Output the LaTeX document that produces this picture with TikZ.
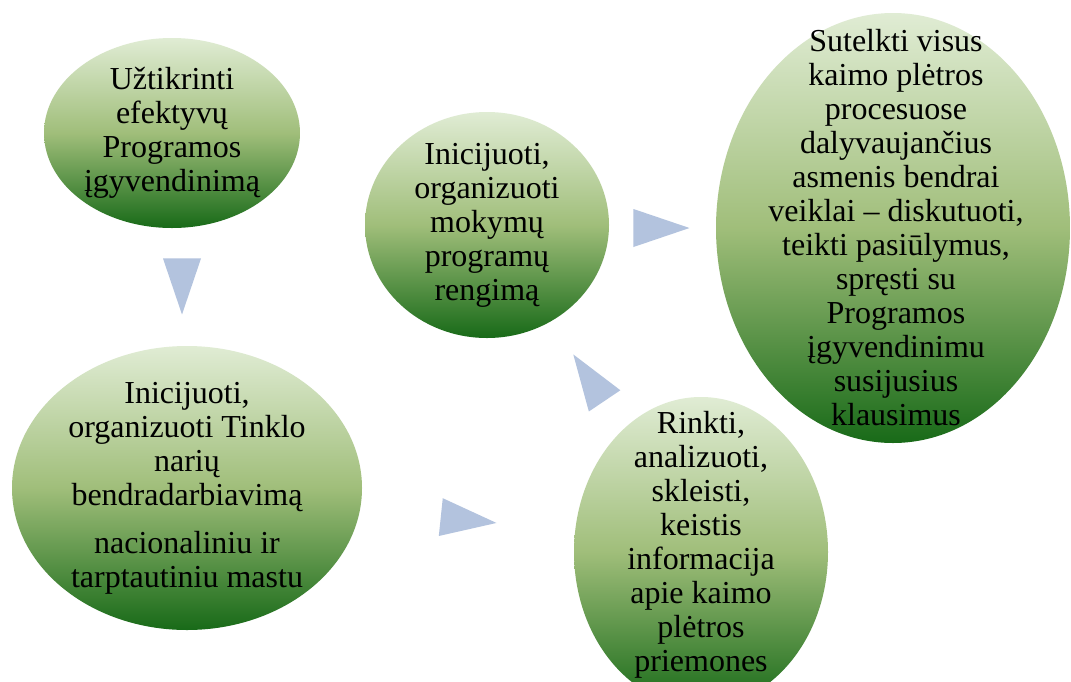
\documentclass[tikz,border=0pt]{standalone}
\usepackage{fontspec}
\setmainfont{Liberation Serif}
\usetikzlibrary{calc,shapes,positioning}
\definecolor{bubtop}{RGB}{224,236,212}
\definecolor{bubmid}{RGB}{160,190,122}
\definecolor{bubbot}{RGB}{24,106,24}
\definecolor{pointfill}{RGB}{179,195,222}
\tikzset{
bubble/.style={
  ellipse,
  inner sep=0pt,
  top color=bubtop,
  bottom color=bubbot,
  middle color=bubmid},
bubtext/.style={
  align=center,
  inner sep=0pt,
  font=\fontsize{32}{34}\selectfont},
pointer/.style={
  isosceles triangle,
  isosceles triangle stretches,
  fill=pointfill,
  inner sep=0pt,
  anchor=apex,
  minimum width=38,
  minimum height=56}
}

\begin{document}
\begin{tikzpicture}[x=1pt,y=-1pt]
    \useasboundingbox (0,0) rectangle (1071,681);
    \fill[white] (0,0) rectangle (1071,681);
    \clip (0,0) rectangle (1071,681);
    % bubbles
    \node [bubble, minimum width=256, minimum height=190] (e1) at (172,133) {};
    \node [bubble, minimum width=350, minimum height=284] (e2) at (187,488) {};
    \node [bubble, minimum width=244, minimum height=226] (e3) at (487,225) {};
    \node [bubble, minimum width=354, minimum height=430] (e4) at (893,228) {};
    \node [bubble, minimum width=254, minimum height=310] (e5) at (701,552) {};
    % texts
    \node [bubtext] (t1) at (e1) {Užtikrinti\\efektyvų\\Programos\\įgyvendinimą};
    \node [bubtext] (t2) at (e2) {Inicijuoti,\\organizuoti Tinklo\\narių\\bendradarbiavimą\\[14pt]nacionaliniu ir\\tarptautiniu mastu};
    \node [bubtext] (t3) at (e3) {Inicijuoti,\\organizuoti\\mokymų\\programų\\rengimą};
    \node [bubtext] (t4) at ([xshift=3pt]e4) {Sutelkti visus\\kaimo plėtros\\procesuose\\dalyvaujančius\\asmenis bendrai\\veiklai – diskutuoti,\\teikti pasiūlymus,\\spręsti su\\Programos\\įgyvendinimu\\susijusius\\klausimus};
    \node [bubtext] (t5) at (701,545) {Rinkti,\\analizuoti,\\skleisti,\\keistis\\informacija\\apie kaimo\\plėtros\\priemones};
    % pointers, placed by their tips
    \node [pointer, rotate=-90] (p12) at (182,315) {};
    \node [pointer, rotate=-6] (p25) at (497,523) {};
    \node [pointer, rotate=124] (p53) at (573,354) {};
    \node [pointer] (p34) at (690,228) {};
\end{tikzpicture}
\end{document}
